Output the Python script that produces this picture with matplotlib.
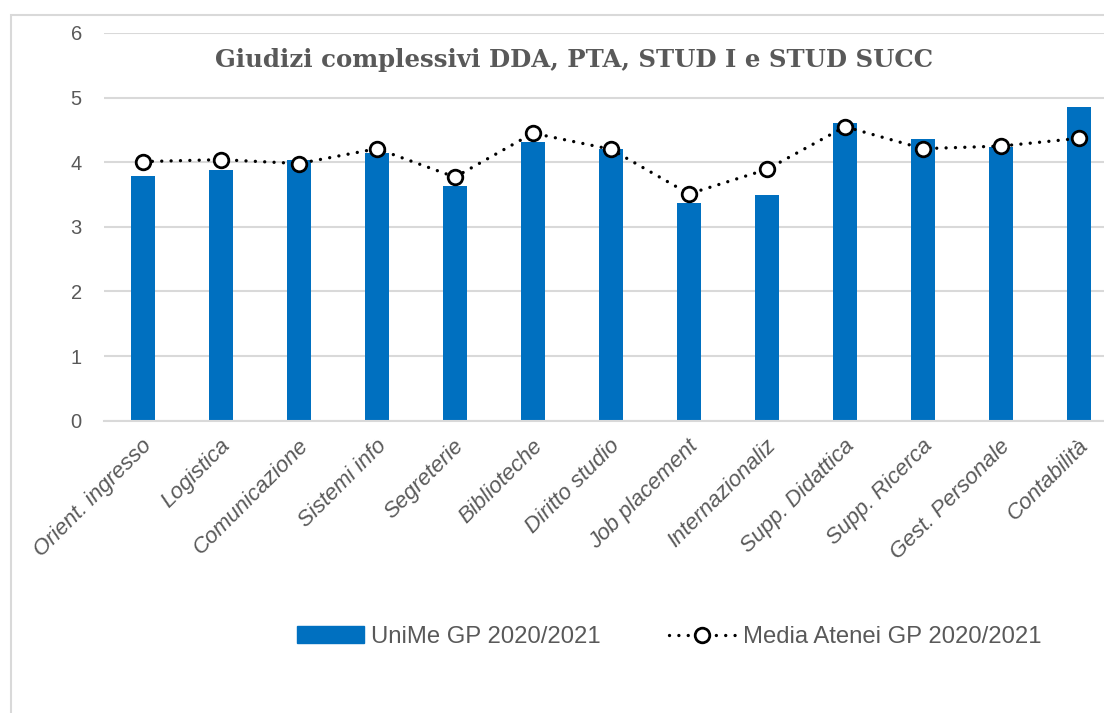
import matplotlib.pyplot as plt
import matplotlib.transforms as mtransforms
from matplotlib.patches import Rectangle
from matplotlib.lines import Line2D

categories = ['Orient. ingresso', 'Logistica', 'Comunicazione', 'Sistemi info',
              'Segreterie', 'Biblioteche', 'Diritto studio', 'Job placement',
              'Internazionaliz', 'Supp. Didattica', 'Supp. Ricerca',
              'Gest. Personale', 'Contabilità']
unime = [3.79, 3.88, 4.03, 4.14, 3.63, 4.31, 4.21, 3.37, 3.50, 4.60, 4.36, 4.24, 4.85]
media = [4.01, 4.04, 3.98, 4.21, 3.77, 4.45, 4.20, 3.51, 3.89, 4.55, 4.21, 4.25, 4.37]
yticks = [0, 1, 2, 3, 4, 5, 6]

title = 'Giudizi complessivi DDA, PTA, STUD I e STUD SUCC'
lab_bar = 'UniMe GP 2020/2021'
lab_line = 'Media Atenei GP 2020/2021'

blue = '#0070C0'
grey = '#595959'
grid = '#D9D9D9'

plt.rcParams['font.family'] = ['Liberation Sans', 'DejaVu Sans']

fig = plt.figure(figsize=(11.04, 7.13), dpi=100)
ax = fig.add_axes([104 / 1104, 292.3 / 713, 1014 / 1104, 387.7 / 713])

x = range(len(categories))
ax.bar(x, unime, width=0.31, color=blue, zorder=2)
ax.plot(x, media, color='black', lw=2.4, linestyle=(0, (0.01, 2.8)),
        dash_capstyle='round', marker='o', markersize=10.5,
        markerfacecolor='white', markeredgecolor='black', markeredgewidth=2,
        zorder=3)

ax.set_xlim(-0.5, len(categories) - 0.5)
ax.set_ylim(0, 6)
ax.set_yticks(yticks)
ax.yaxis.grid(True, color=grid, lw=1.5, zorder=0)
ax.set_axisbelow(True)
for s in ['top', 'right', 'left']:
    ax.spines[s].set_visible(False)
ax.spines['bottom'].set_color(grid)
ax.spines['bottom'].set_linewidth(1.5)
ax.tick_params(axis='y', length=0, pad=16, labelsize=14.5, labelcolor=grey)
ax.tick_params(axis='x', length=0, pad=16, labelcolor=grey)
ax.set_xticks(list(x))
ax.set_xticklabels(categories, rotation=45, ha='right', va='center',
                   rotation_mode='anchor', fontsize=16, style='italic')
shift = mtransforms.ScaledTranslation(6 / 100, 0, fig.dpi_scale_trans)
for lbl in ax.get_xticklabels():
    lbl.set_transform(lbl.get_transform() + shift)

fig.text(0.52, 1 - 60 / 713, title, ha='center', va='center',
         fontsize=17.6, fontweight='bold', color=grey, family='DejaVu Serif')

# chart area border
fig.patches.append(Rectangle((11 / 1104, -0.2), 1.2, 0.2 + (1 - 15 / 713),
                             transform=fig.transFigure, fill=False,
                             edgecolor=grid, lw=1.5))

handles = [Rectangle((0, 0), 1, 1, color=blue),
           Line2D([], [], color='black', lw=2.4, linestyle=(0, (0.01, 2.8)),
                  dash_capstyle='round', marker='o', markersize=10.5,
                  markerfacecolor='white', markeredgecolor='black',
                  markeredgewidth=2)]
fig.legend(handles, [lab_bar, lab_line], loc='center', ncol=2,
           bbox_to_anchor=(669 / 1104, 1 - 637 / 713), frameon=False,
           fontsize=17.2, labelcolor=grey, handlelength=2.8, handleheight=0.75,
           handletextpad=0.3, columnspacing=2.85)

fig.savefig('out.png', dpi=100)
